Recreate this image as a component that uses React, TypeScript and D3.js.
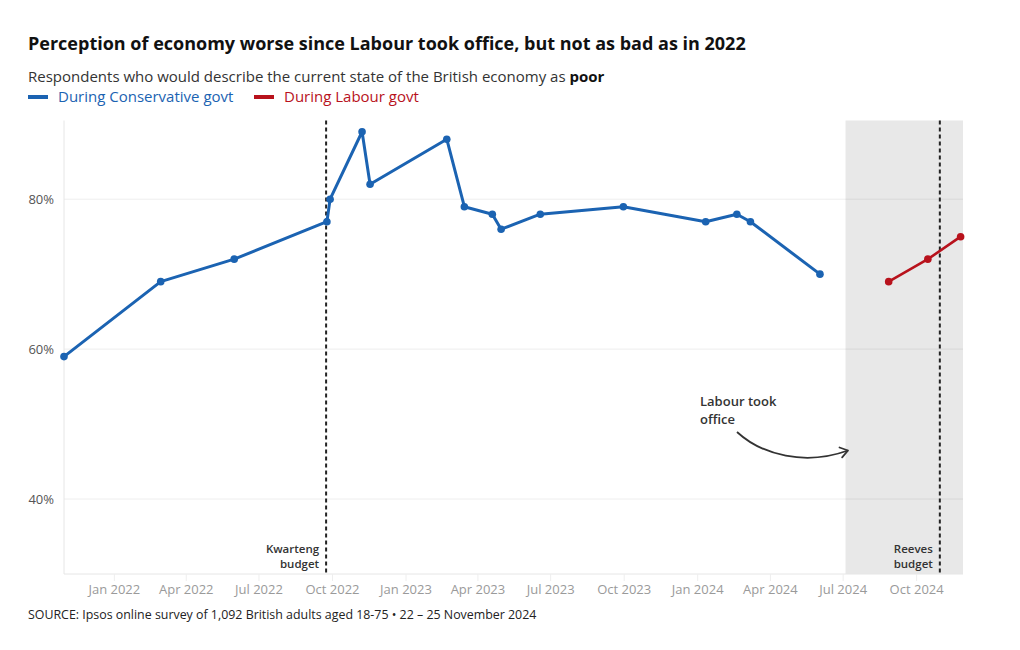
import React from "react";
import * as d3 from "d3";

const conservativeDates = [
  "2021-10-30", "2022-02-28", "2022-05-31", "2022-09-24", "2022-09-28",
  "2022-11-07", "2022-11-17", "2023-02-21", "2023-03-15", "2023-04-19",
  "2023-04-30", "2023-06-18", "2023-09-30", "2024-01-11", "2024-02-19",
  "2024-03-07", "2024-06-02",
];
const conservativeValues = [59, 69, 72, 77, 80, 89, 82, 88, 79, 78, 76, 78, 79, 77, 78, 77, 70];

const labourDates = ["2024-08-27", "2024-10-15", "2024-11-25"];
const labourValues = [69, 72, 75];

const yTicks = [40, 60, 80];
const xTickDates = [
  "2022-01-01", "2022-04-01", "2022-07-01", "2022-10-01", "2023-01-01", "2023-04-01",
  "2023-07-01", "2023-10-01", "2024-01-01", "2024-04-01", "2024-07-01", "2024-10-01",
];

const kwartengDate = "2022-09-23";
const reevesDate = "2024-10-30";
const labourOfficeDate = "2024-07-04";
const domainStart = "2021-10-30";
const domainEnd = "2024-11-28";

const title = "Perception of economy worse since Labour took office, but not as bad as in 2022";
const subtitlePre = "Respondents who would describe the current state of the British economy as ";
const subtitleBold = "poor";
const legendConservative = "During Conservative govt";
const legendLabour = "During Labour govt";
const source = "SOURCE: Ipsos online survey of 1,092 British adults aged 18-75 \u2022 22 \u2013 25 November 2024";

const BLUE = "#1b63b2";
const RED = "#b8121c";
const FONT = "'Open Sans', 'Noto Sans', sans-serif";

const parse = d3.utcParse("%Y-%m-%d");
const fmt = d3.utcFormat("%b %Y");

export default function App() {
  const W = 1020, H = 650;
  const left = 64, right = 963, top = 120.5, bottom = 574;
  const x = d3.scaleUtc().domain([parse(domainStart)!, parse(domainEnd)!]).range([left, right]);
  const y = d3.scaleLinear().domain([30, 90.5]).range([bottom, top]);

  const cons = conservativeDates.map((d, i) => ({ date: parse(d)!, v: conservativeValues[i] }));
  const lab = labourDates.map((d, i) => ({ date: parse(d)!, v: labourValues[i] }));
  const line = d3.line<{ date: Date; v: number }>().x((d) => x(d.date)).y((d) => y(d.v));

  const kx = x(parse(kwartengDate)!);
  const rx = x(parse(reevesDate)!);
  const lx = x(parse(labourOfficeDate)!);

  // arrow
  const ax0 = 737, ay0 = 432, ax1 = 848, ay1 = 450.5;
  const arrowPath = `M${ax0},${ay0} C${762},${455} ${805},${466} ${ax1},${ay1}`;
  const ang = Math.atan2(ay1 - 458, ax1 - 820);
  const ah = 9;
  const a1 = [ax1 - ah * Math.cos(ang - 0.6), ay1 - ah * Math.sin(ang - 0.6)];
  const a2 = [ax1 - ah * Math.cos(ang + 0.6), ay1 - ah * Math.sin(ang + 0.6)];

  return (
    <div style={{ position: "absolute", left: 0, top: 0 }}>
      <svg width={W} height={H} style={{ display: "block", background: "#fff" }} fontFamily={FONT}>
        <text x={28} y={50} fontSize={18} fontWeight={700} fill="#111">{title}</text>
        <text x={28} y={82} fontSize={15} fill="#333">
          {subtitlePre}
          <tspan fontWeight={700} fill="#111">{subtitleBold}</tspan>
        </text>
        <line x1={28} x2={48} y1={97} y2={97} stroke={BLUE} strokeWidth={4} />
        <text x={58} y={102} fontSize={15} fill={BLUE}>{legendConservative}</text>
        <line x1={254} x2={274} y1={97} y2={97} stroke={RED} strokeWidth={4} />
        <text x={284} y={102} fontSize={15} fill={RED}>{legendLabour}</text>

        {/* shading */}
        <rect x={lx} y={top} width={right - lx} height={bottom - top} fill="#e8e8e8" />

        {/* grid */}
        {yTicks.map((t) => (
          <g key={t}>
            <line x1={left} x2={right} y1={y(t)} y2={y(t)} stroke="#000" strokeOpacity={0.07} />
            <text x={54} y={y(t) + 5} fontSize={13} fill="#555" textAnchor="end">{t}%</text>
          </g>
        ))}
        <line x1={left} x2={left} y1={top} y2={bottom} stroke="#e6e6e6" />
        <line x1={left} x2={right} y1={bottom} y2={bottom} stroke="#e6e6e6" />
        {xTickDates.map((d) => {
          const xx = x(parse(d)!);
          return (
            <g key={d}>
              <line x1={xx} x2={xx} y1={bottom} y2={bottom + 7} stroke="#eee" />
              <text x={xx} y={594} fontSize={13} fill="#9a9a9a" textAnchor="middle">{fmt(parse(d)!)}</text>
            </g>
          );
        })}

        {/* event lines */}
        <line x1={kx} x2={kx} y1={top} y2={bottom} stroke="#222" strokeWidth={2} strokeDasharray="4,3" />
        <line x1={rx} x2={rx} y1={top} y2={bottom} stroke="#222" strokeWidth={2} strokeDasharray="4,3" />
        <text x={kx - 7} y={553} fontSize={11.5} fontWeight={600} fill="#333" textAnchor="end">Kwarteng</text>
        <text x={kx - 7} y={568} fontSize={11.5} fontWeight={600} fill="#333" textAnchor="end">budget</text>
        <text x={rx - 7} y={553} fontSize={11.5} fontWeight={600} fill="#333" textAnchor="end">Reeves</text>
        <text x={rx - 7} y={568} fontSize={11.5} fontWeight={600} fill="#333" textAnchor="end">budget</text>

        {/* annotation */}
        <text x={700} y={406} fontSize={13} fontWeight={600} fill="#333">Labour took</text>
        <text x={700} y={424} fontSize={13} fontWeight={600} fill="#333">office</text>
        <path d={arrowPath} fill="none" stroke="#333" strokeWidth={1.8} />
        <path d={`M${a1[0]},${a1[1]} L${ax1},${ay1} L${a2[0]},${a2[1]}`} fill="none" stroke="#333" strokeWidth={1.8} strokeLinejoin="round" strokeLinecap="round" />

        {/* series */}
        <path d={line(cons)!} fill="none" stroke={BLUE} strokeWidth={3} strokeLinejoin="round" />
        {cons.map((d, i) => (
          <circle key={i} cx={x(d.date)} cy={y(d.v)} r={3.8} fill={BLUE} />
        ))}
        <path d={line(lab)!} fill="none" stroke={RED} strokeWidth={2.6} strokeLinejoin="round" />
        {lab.map((d, i) => (
          <circle key={i} cx={x(d.date)} cy={y(d.v)} r={3.8} fill={RED} />
        ))}

        <text x={28} y={619} fontSize={12.4} fill="#222">{source}</text>
      </svg>
    </div>
  );
}
